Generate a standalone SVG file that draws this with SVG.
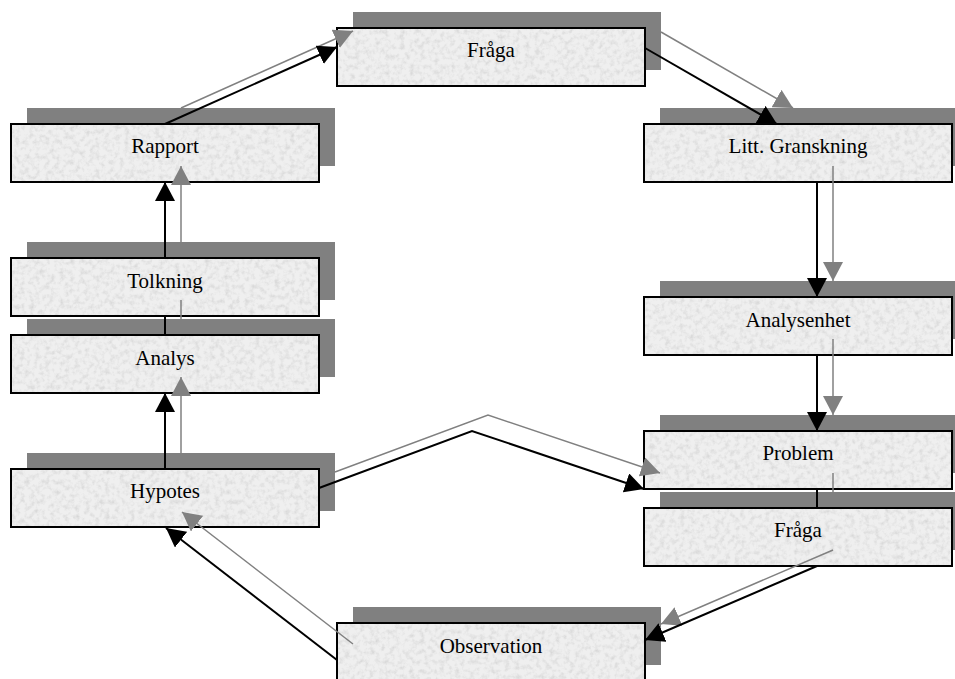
<svg xmlns="http://www.w3.org/2000/svg" width="955" height="679" viewBox="0 0 955 679">
<style>
.sh{fill:#808080;stroke:none}
.bx{fill:#efefef;stroke:none;filter:url(#tex)}
.bd{fill:none;stroke:#000;stroke-width:2}
.lb{font-family:"Liberation Serif","Times New Roman",serif;font-size:21px;fill:#000;text-anchor:middle}
.cb{fill:none;stroke:#000;stroke-width:2}
.cg{fill:none;stroke:#808080;stroke-width:1.5}
.ab{marker-end:url(#mb)}
.ag{marker-end:url(#mg)}
</style>
<defs>
<filter id="tex" x="0" y="0" width="100%" height="100%">
<feTurbulence type="fractalNoise" baseFrequency="0.2" numOctaves="3" seed="7" result="n"/>
<feColorMatrix in="n" type="matrix" values="0 0 0 0 0.6  0 0 0 0 0.6  0 0 0 0 0.6  0 0 0 1.4 -0.6" result="g"/>
<feComposite in="g" in2="SourceGraphic" operator="in" result="gc"/>
<feMerge><feMergeNode in="SourceGraphic"/><feMergeNode in="gc"/></feMerge>
</filter>
<marker id="mb" markerWidth="20" markerHeight="20" refX="19" refY="10" orient="auto" markerUnits="userSpaceOnUse">
<path d="M0,0 L19,10 L0,20 z" fill="#000"/>
</marker>
<marker id="mg" markerWidth="20" markerHeight="20" refX="19" refY="10" orient="auto" markerUnits="userSpaceOnUse">
<path d="M0,0 L19,10 L0,20 z" fill="#808080"/>
</marker>
</defs>
<rect width="955" height="679" fill="#fff"/>

<g id="node-fraga-top">
<rect class="sh" x="353" y="12" width="308" height="58"/>
<rect class="bx" x="337" y="28" width="308" height="58"/>
<rect class="bd" x="337" y="28" width="308" height="58"/>
<text class="lb" x="491" y="57">Fråga</text>
</g>
<g id="node-rapport">
<rect class="sh" x="27" y="108" width="308" height="58"/>
<rect class="bx" x="11" y="124" width="308" height="58"/>
<rect class="bd" x="11" y="124" width="308" height="58"/>
<text class="lb" x="165" y="153">Rapport</text>
</g>
<g id="node-tolkning">
<rect class="sh" x="27" y="242" width="308" height="58"/>
<rect class="bx" x="11" y="258" width="308" height="58"/>
<rect class="bd" x="11" y="258" width="308" height="58"/>
<text class="lb" x="165" y="288">Tolkning</text>
</g>
<g id="node-analys">
<rect class="sh" x="27" y="319" width="308" height="58"/>
<rect class="bx" x="11" y="335" width="308" height="58"/>
<rect class="bd" x="11" y="335" width="308" height="58"/>
<text class="lb" x="165" y="365">Analys</text>
</g>
<g id="node-hypotes">
<rect class="sh" x="27" y="453" width="308" height="58"/>
<rect class="bx" x="11" y="469" width="308" height="58"/>
<rect class="bd" x="11" y="469" width="308" height="58"/>
<text class="lb" x="165" y="498">Hypotes</text>
</g>
<g id="node-litt">
<rect class="sh" x="660" y="108" width="308" height="58"/>
<rect class="bx" x="644" y="124" width="308" height="58"/>
<rect class="bd" x="644" y="124" width="308" height="58"/>
<text class="lb" x="798" y="153">Litt. Granskning</text>
</g>
<g id="node-analysenhet">
<rect class="sh" x="660" y="281" width="308" height="58"/>
<rect class="bx" x="644" y="297" width="308" height="58"/>
<rect class="bd" x="644" y="297" width="308" height="58"/>
<text class="lb" x="798" y="327">Analysenhet</text>
</g>
<g id="node-problem">
<rect class="sh" x="660" y="415" width="308" height="58"/>
<rect class="bx" x="644" y="431" width="308" height="58"/>
<rect class="bd" x="644" y="431" width="308" height="58"/>
<text class="lb" x="798" y="460">Problem</text>
</g>
<g id="node-fraga-2">
<rect class="sh" x="660" y="492" width="308" height="58"/>
<rect class="bx" x="644" y="508" width="308" height="58"/>
<rect class="bd" x="644" y="508" width="308" height="58"/>
<text class="lb" x="798" y="537">Fråga</text>
</g>
<g id="node-observation">
<rect class="sh" x="353" y="607" width="308" height="58"/>
<rect class="bx" x="337" y="623" width="308" height="58"/>
<rect class="bd" x="337" y="623" width="308" height="58"/>
<text class="lb" x="491" y="653">Observation</text>
</g>

<g id="connectors">
<path class="cg ag" d="M181,108 L353,31"/>
<path class="cg ag" d="M661,32 L793,108"/>
<path class="cg ag" d="M833,166 L833,281"/>
<path class="cg ag" d="M833,339 L833,415"/>
<path class="cg" d="M833,473 L833,492"/>
<path class="cg ag" d="M833,550 L661,624"/>
<path class="cg ag" d="M353,644 L182,512"/>
<path class="cg ag" d="M181,453 L181,377"/>
<path class="cg" d="M181,319 L181,300"/>
<path class="cg ag" d="M181,242 L181,166"/>
<path class="cg ag" d="M335,472 L488,415 L660,473"/>

<path class="cb ab" d="M165,124 L337,47"/>
<path class="cb ab" d="M645,48 L777,124"/>
<path class="cb ab" d="M817,182 L817,297"/>
<path class="cb ab" d="M817,355 L817,431"/>
<path class="cb" d="M817,489 L817,508"/>
<path class="cb ab" d="M817,566 L645,640"/>
<path class="cb ab" d="M337,660 L166,528"/>
<path class="cb ab" d="M165,469 L165,393"/>
<path class="cb" d="M165,335 L165,316"/>
<path class="cb ab" d="M165,258 L165,182"/>
<path class="cb ab" d="M319,488 L472,431 L644,489"/>
</g>
</svg>
